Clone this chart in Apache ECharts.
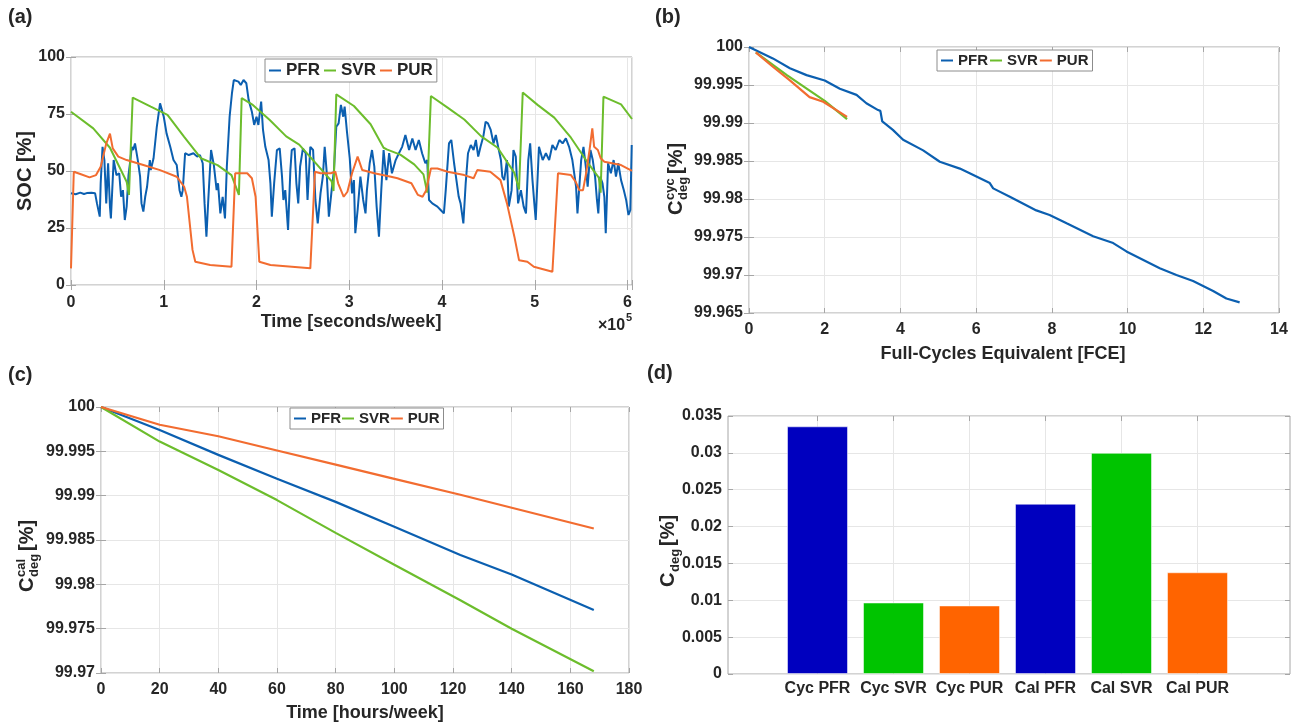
<!DOCTYPE html>
<html>
<head>
<meta charset="utf-8">
<script src="https://cdn.jsdelivr.net/npm/echarts@6/dist/echarts.min.js"></script>
<style>
  html, body { margin: 0; padding: 0; background: #fff; }
  #chart { width: 1297px; height: 724px; }
</style>
</head>
<body>
<div id="chart"></div>
<script>
// (a) SOC over one week, x in units of 1e5 s
const socPFR = [[0,40.2],[0.05,39.8],[0.10,40.5],[0.14,39.9],[0.17,40.3],[0.22,40.5],[0.26,40.2],[0.28,35.8],[0.31,30.0],[0.32,44.6],[0.34,60.6],[0.36,54.8],[0.38,35.8],[0.40,53.4],[0.42,34.4],[0.43,29.2],[0.46,54.8],[0.49,48.2],[0.52,49.0],[0.54,38.7],[0.56,41.6],[0.58,28.5],[0.60,34.4],[0.62,48.2],[0.64,54.8],[0.655,60.6],[0.67,59.2],[0.69,62.1],[0.72,54.8],[0.745,47.5],[0.76,35.8],[0.78,32.2],[0.80,38.7],[0.82,43.1],[0.85,54.8],[0.86,50.4],[0.89,55.6],[0.925,69.4],[0.96,79.7],[0.98,79.0],[1.00,73.8],[1.03,66.5],[1.07,60.6],[1.105,54.8],[1.14,52.6],[1.17,41.6],[1.19,38.7],[1.205,41.6],[1.23,57.8],[1.27,57.0],[1.32,57.8],[1.36,56.3],[1.39,57.0],[1.42,53.4],[1.44,35.8],[1.46,21.2],[1.48,37.3],[1.51,59.2],[1.54,52.6],[1.57,41.6],[1.585,44.6],[1.61,31.4],[1.635,38.7],[1.66,29.2],[1.68,51.9],[1.71,73.8],[1.735,84.0],[1.755,89.9],[1.805,89.2],[1.83,87.7],[1.86,89.9],[1.89,88.5],[1.915,81.2],[1.95,76.0],[1.975,70.2],[2.00,73.8],[2.02,70.2],[2.05,80.4],[2.07,68.0],[2.095,60.6],[2.13,54.8],[2.15,44.6],[2.165,30.0],[2.19,44.6],[2.22,59.2],[2.25,59.9],[2.275,47.5],[2.29,37.3],[2.31,41.6],[2.34,24.1],[2.365,50.4],[2.38,59.2],[2.41,59.9],[2.43,44.6],[2.45,35.8],[2.47,51.9],[2.50,59.9],[2.53,57.8],[2.55,37.3],[2.58,60.6],[2.61,59.2],[2.635,37.3],[2.66,27.0],[2.69,40.2],[2.715,47.5],[2.735,60.6],[2.755,50.4],[2.78,30.0],[2.81,41.6],[2.835,50.4],[2.86,69.4],[2.885,70.9],[2.91,79.0],[2.935,73.8],[2.95,78.2],[2.975,67.3],[3.005,55.6],[3.03,40.2],[3.05,46.0],[3.065,22.7],[3.09,32.9],[3.12,47.5],[3.15,37.3],[3.175,31.4],[3.19,41.6],[3.22,53.4],[3.245,59.2],[3.27,51.9],[3.295,34.4],[3.32,21.2],[3.345,41.6],[3.37,59.2],[3.40,46.0],[3.43,57.8],[3.46,49.0],[3.50,54.8],[3.535,57.8],[3.57,60.6],[3.605,65.8],[3.645,59.2],[3.68,64.3],[3.715,59.2],[3.75,63.6],[3.785,57.8],[3.82,53.4],[3.84,54.8],[3.86,37.3],[3.895,35.8],[3.95,34.4],[3.985,32.9],[4.02,31.4],[4.04,41.6],[4.075,62.1],[4.10,63.6],[4.13,53.4],[4.16,44.6],[4.18,38.7],[4.20,35.8],[4.23,27.0],[4.255,44.6],[4.28,57.8],[4.31,61.4],[4.34,59.2],[4.365,63.6],[4.39,56.3],[4.415,60.6],[4.445,65.1],[4.47,71.6],[4.495,70.9],[4.525,68.0],[4.555,62.1],[4.58,65.8],[4.605,60.6],[4.635,54.8],[4.65,47.5],[4.67,46.0],[4.70,54.8],[4.72,34.4],[4.75,41.6],[4.77,59.2],[4.795,56.3],[4.82,35.8],[4.85,41.6],[4.88,34.4],[4.905,31.4],[4.93,54.8],[4.95,62.1],[4.975,46.0],[4.995,35.8],[5.01,28.5],[5.045,60.6],[5.085,54.8],[5.12,57.8],[5.155,54.8],[5.19,61.4],[5.225,59.2],[5.265,63.6],[5.30,62.1],[5.335,64.3],[5.37,60.6],[5.405,54.8],[5.445,43.1],[5.46,31.4],[5.50,54.8],[5.525,60.6],[5.55,51.9],[5.57,43.1],[5.60,59.2],[5.625,54.8],[5.65,47.5],[5.67,37.3],[5.685,31.4],[5.705,47.5],[5.73,44.6],[5.75,38.7],[5.765,22.7],[5.79,53.4],[5.82,49.0],[5.85,54.8],[5.875,47.5],[5.90,53.4],[5.93,46.0],[5.96,41.6],[5.985,37.3],[6.01,30.7],[6.03,32.9],[6.045,61.4]];
const socSVR = [[0,76],[0.24,68.7],[0.42,60.2],[0.60,45.3],[0.625,39.5],[0.665,82.2],[0.86,78.2],[1.04,74.6],[1.22,65],[1.40,55.6],[1.58,52.6],[1.73,48.2],[1.81,39.5],[1.84,82],[1.96,79],[2.14,72.5],[2.32,65.2],[2.46,61.6],[2.65,52.9],[2.81,45.5],[2.83,41.2],[2.86,83.6],[3.05,78.5],[3.23,70.5],[3.37,60.2],[3.41,59.4],[3.55,57.2],[3.70,52.9],[3.80,48.5],[3.84,40.5],[3.88,82.9],[4.06,77.8],[4.24,72.6],[4.42,65.3],[4.60,60.2],[4.78,49.2],[4.83,41.9],[4.87,84.4],[5.03,79],[5.21,73.4],[5.39,64.6],[5.57,53.7],[5.69,47.1],[5.71,40.5],[5.74,82.6],[5.93,79.2],[6.048,72.8]];
const socPUR = [[0,7.3],[0.03,49.7],[0.10,48.7],[0.20,47.2],[0.27,48.2],[0.32,51.9],[0.38,62],[0.42,66.4],[0.45,59.9],[0.51,56.3],[0.60,54.8],[0.78,52.6],[0.96,50.4],[1.14,47.5],[1.22,43.1],[1.25,38.7],[1.31,15.4],[1.34,10.2],[1.50,8.8],[1.73,8.0],[1.77,49],[1.90,49],[1.95,46.8],[1.99,38.7],[2.03,10.2],[2.15,8.8],[2.58,7.3],[2.63,49.7],[2.69,49],[2.80,49],[2.85,49.7],[2.88,44.6],[2.94,38.7],[2.98,40.9],[3.03,49],[3.09,56.3],[3.14,50.4],[3.27,49],[3.45,47.5],[3.52,46.8],[3.67,44.6],[3.74,39.5],[3.79,38.7],[3.83,41.6],[3.88,51.1],[3.95,51.1],[4.06,49.7],[4.24,48.2],[4.34,46.8],[4.38,50.4],[4.52,49.7],[4.63,46],[4.70,35.8],[4.78,21.2],[4.83,10.9],[4.92,10.2],[4.99,8.0],[5.19,5.8],[5.25,49],[5.39,48.2],[5.44,45.3],[5.48,41.6],[5.52,41.6],[5.55,48.2],[5.59,59.2],[5.62,68.7],[5.64,60.6],[5.68,59.2],[5.71,55.6],[5.75,54.1],[5.93,52.6],[6.048,50.1]];

// (b) cyclic capacity vs FCE
const cycPFR = [[0,100],[0.63,99.9985],[1.08,99.9972],[1.52,99.9963],[2.0,99.9956],[2.4,99.9945],[2.84,99.9937],[3.1,99.9926],[3.41,99.9917],[3.47,99.9916],[3.52,99.9902],[3.8,99.9891],[4.07,99.9878],[4.6,99.9864],[5.04,99.9849],[5.57,99.984],[5.83,99.9834],[6.36,99.9821],[6.45,99.9814],[6.89,99.9803],[7.59,99.9785],[7.94,99.9779],[8.39,99.9768],[9.09,99.9751],[9.62,99.9742],[9.97,99.9731],[10.85,99.9709],[11.29,99.97],[11.73,99.9692],[12.26,99.9679],[12.61,99.9669],[12.96,99.9664]];
const cycSVR = [[0.18,99.9993],[1.0,99.9963],[2.0,99.9929],[2.59,99.9905]];
const cycPUR = [[0.18,99.9993],[0.63,99.9974],[1.08,99.9956],[1.6,99.9934],[1.96,99.9928],[2.31,99.9917],[2.59,99.9908]];

// (c) calendar capacity vs hours
const calPFR = [[0,100],[20,99.9974],[40,99.9946],[60,99.9919],[80,99.9893],[100,99.9865],[122.5,99.9833],[140,99.9811],[168,99.9771]];
const calSVR = [[0,100],[20,99.9961],[40,99.9929],[60,99.9895],[80,99.9858],[100,99.9822],[122.5,99.9782],[140,99.975],[168,99.9702]];
const calPUR = [[0,100],[20,99.998],[40,99.9967],[60,99.9951],[80,99.9935],[100,99.9919],[122.5,99.9901],[168,99.9863]];

// (d) total degradation
const degCategories = ['Cyc PFR', 'Cyc SVR', 'Cyc PUR', 'Cal PFR', 'Cal SVR', 'Cal PUR'];
const degValues = [0.0336, 0.0097, 0.0093, 0.0231, 0.0300, 0.0138];

const seriesNames = ['PFR', 'SVR', 'PUR'];
const lineColors = ['#0b5fb0', '#6cbd2c', '#f26c30'];
const barColors = ['#0000bf', '#00c400', '#ff6400', '#0000bf', '#00c400', '#ff6400'];

const FONT = "'Liberation Sans', Arial, sans-serif";
const TXT = '#262626';
const BOX = '#a6a6a6';
const GRIDC = '#e6e6e6';

const chart = echarts.init(document.getElementById('chart'), null, { renderer: 'canvas' });

function fmt3(v) { return String(parseFloat(Number(v).toFixed(3))); }

function bottomX(g, min, max, interval, margin, formatter) {
  return {
    type: 'value', gridIndex: g, position: 'bottom', min, max, interval,
    axisLine: { show: false },
    axisTick: { inside: true, length: 5, lineStyle: { color: BOX } },
    axisLabel: { margin, color: TXT, fontSize: 16, fontWeight: 'bold', fontFamily: FONT, formatter },
    splitLine: { show: true, lineStyle: { color: GRIDC } }
  };
}
function topX(g, min, max, interval) {
  return {
    type: 'value', gridIndex: g, position: 'top', min, max, interval,
    axisLine: { show: false }, axisLabel: { show: false }, splitLine: { show: false },
    axisTick: { inside: true, length: 5, lineStyle: { color: BOX } }
  };
}
function leftY(g, min, max, interval, formatter) {
  return {
    type: 'value', gridIndex: g, position: 'left', min, max, interval,
    axisLine: { show: false },
    axisTick: { inside: true, length: 5, lineStyle: { color: BOX } },
    axisLabel: { margin: 6, color: TXT, fontSize: 16, fontWeight: 'bold', fontFamily: FONT, formatter },
    splitLine: { show: true, lineStyle: { color: GRIDC } }
  };
}
function rightY(g, min, max, interval) {
  return {
    type: 'value', gridIndex: g, position: 'right', min, max, interval,
    axisLine: { show: false }, axisLabel: { show: false }, splitLine: { show: false },
    axisTick: { inside: true, length: 5, lineStyle: { color: BOX } }
  };
}

function lines(data, xi, yi, width) {
  return data.map((d, i) => ({
    name: seriesNames[i], type: 'line', xAxisIndex: xi, yAxisIndex: yi,
    data: d, showSymbol: false, symbol: 'none',
    lineStyle: { color: lineColors[i], width: width }, itemStyle: { color: lineColors[i] },
    z: i === 0 ? 3 : 4
  }));
}

function legendAt(left, top, fontSize, itemGap) {
  return {
    left, top, orient: 'horizontal', data: seriesNames, icon: 'rect',
    itemWidth: 12, itemHeight: 2, itemGap, padding: [3, 4],
    borderColor: '#8c8c8c', borderWidth: 1, backgroundColor: '#fff',
    textStyle: { fontSize, fontWeight: 'bold', fontFamily: FONT, color: TXT },
    selectedMode: false
  };
}

function txt(x, y, text, size, align) {
  return {
    type: 'text', x, y, silent: true,
    style: { text, fontSize: size, fontWeight: 'bold', fontFamily: FONT, fill: TXT,
             align: align || 'center', verticalAlign: 'middle' }
  };
}

// rotated y title: C with stacked super/subscript, then [%]
function yTitle(cx, cy, sup, sub) {
  const kids = [];
  const x0 = sup ? -37 : -32;
  kids.push({ type: 'text', x: x0, y: 0, style: { text: 'C', fontSize: 20, fontWeight: 'bold', fontFamily: FONT, fill: TXT, align: 'left', verticalAlign: 'middle' } });
  const sx = x0 + 15;
  if (sup) kids.push({ type: 'text', x: sx, y: -6, style: { text: sup, fontSize: 13, fontWeight: 'bold', fontFamily: FONT, fill: TXT, align: 'left', verticalAlign: 'middle' } });
  kids.push({ type: 'text', x: sx, y: 7, style: { text: sub, fontSize: 13, fontWeight: 'bold', fontFamily: FONT, fill: TXT, align: 'left', verticalAlign: 'middle' } });
  kids.push({ type: 'text', x: sx + 26, y: 0, style: { text: '[%]', fontSize: 20, fontWeight: 'bold', fontFamily: FONT, fill: TXT, align: 'left', verticalAlign: 'middle' } });
  return { type: 'group', x: cx, y: cy, rotation: Math.PI / 2, silent: true, children: kids };
}

const gridBase = { show: true, borderColor: BOX, borderWidth: 1, backgroundColor: '#fff', containLabel: false };

const option = {
  animation: false,
  backgroundColor: '#fff',
  grid: [
    Object.assign({ left: 71, top: 57, width: 561, height: 228 }, gridBase),
    Object.assign({ left: 749, top: 47, width: 530, height: 266 }, gridBase),
    Object.assign({ left: 101, top: 407, width: 528, height: 266 }, gridBase),
    Object.assign({ left: 728, top: 416, width: 562, height: 258 }, gridBase),
    { show: false, left: 817.5, top: 416, width: 380, height: 258 }
  ],
  xAxis: [
    bottomX(0, 0, 6.048, 1, 10, v => (Math.abs(v - Math.round(v)) < 1e-6 ? String(Math.round(v)) : '')),
    topX(0, 0, 6.048, 1),
    bottomX(1, 0, 14, 2, 9, v => String(v)),
    topX(1, 0, 14, 2),
    bottomX(2, 0, 180, 20, 9, v => String(v)),
    topX(2, 0, 180, 20),
    { type: 'value', gridIndex: 3, min: 0, max: 1, show: false },
    bottomX(4, 1, 6, 1, 7, v => degCategories[Math.round(v) - 1] || ''),
    topX(4, 1, 6, 1)
  ],
  yAxis: [
    leftY(0, 0, 100, 25, v => String(v)),
    rightY(0, 0, 100, 25),
    leftY(1, 99.965, 100, 0.005, fmt3),
    rightY(1, 99.965, 100, 0.005),
    leftY(2, 99.97, 100, 0.005, fmt3),
    rightY(2, 99.97, 100, 0.005),
    leftY(3, 0, 0.035, 0.005, fmt3),
    rightY(3, 0, 0.035, 0.005),
    { type: 'value', gridIndex: 4, min: 0, max: 0.035, show: false }
  ],
  legend: [
    legendAt(265, 59, 17, 4),
    legendAt(937, 50, 15, 2),
    legendAt(290, 408, 15, 1)
  ],
  series: [].concat(
    lines([socPFR, socSVR, socPUR], 0, 0, 2),
    lines([cycPFR, cycSVR, cycPUR], 2, 2, 2.2),
    lines([calPFR, calSVR, calPUR], 4, 4, 2.2),
    [{
      name: 'Cdeg', type: 'bar', xAxisIndex: 7, yAxisIndex: 8, barWidth: 61, clip: false,
      data: degValues.map((v, i) => ({ value: [i + 1, v], itemStyle: { color: barColors[i] } })),
      itemStyle: { borderColor: 'rgba(255,255,255,0.5)', borderWidth: 1 }
    }]
  ),
  graphic: [
    txt(8, 17, '(a)', 20, 'left'),
    txt(655, 17, '(b)', 20, 'left'),
    txt(8, 375, '(c)', 20, 'left'),
    txt(647, 373, '(d)', 20, 'left'),
    { type: 'text', x: 25, y: 171, rotation: Math.PI / 2, silent: true,
      style: { text: 'SOC [%]', fontSize: 20, fontWeight: 'bold', fontFamily: FONT, fill: TXT, align: 'center', verticalAlign: 'middle' } },
    yTitle(676, 178, 'cyc', 'deg'),
    yTitle(27, 555, 'cal', 'deg'),
    yTitle(668, 555, null, 'deg'),
    txt(351, 322, 'Time [seconds/week]', 18),
    txt(1003, 354, 'Full-Cycles Equivalent [FCE]', 18),
    txt(365, 713, 'Time [hours/week]', 18),
    txt(598, 326, '\u00d710', 16, 'left'),
    txt(626, 318, '5', 11, 'left')
  ]
};

chart.setOption(option);
</script>
</body>
</html>
